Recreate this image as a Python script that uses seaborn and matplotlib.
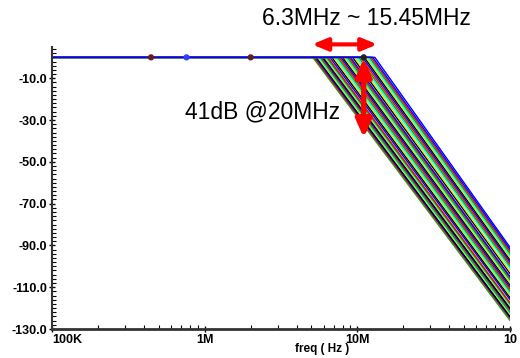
import numpy as np
import pandas as pd
import matplotlib
matplotlib.use("Agg")
import matplotlib.pyplot as plt
import seaborn as sns
from matplotlib.ticker import MultipleLocator, FixedLocator, LogLocator, NullFormatter

sns.set_style("white")
plt.rcParams['font.family'] = ['Liberation Sans', 'DejaVu Sans']
plt.rcParams['text.color'] = 'black'
plt.rcParams['xtick.color'] = 'black'
plt.rcParams['ytick.color'] = 'black'
plt.rcParams['axes.labelcolor'] = 'black'

# knee frequency (MHz) of each swept response and its level at 100MHz (dB)
knee_mhz = [5.1, 5.2, 5.3, 5.4, 5.5, 5.6, 5.7, 5.8, 5.9, 6.0, 6.1, 6.2, 6.3, 6.4,
            6.6, 6.8, 7.0, 7.2, 7.4, 7.6, 7.8, 8.0, 8.2, 8.4, 8.6, 8.8, 9.0, 9.3,
            9.6, 9.9, 10.2, 10.5, 10.8, 11.1, 11.4, 11.7, 12.0, 12.3, 12.6, 13.0]
end_db = [-126, -125, -124.5, -124, -123, -122.5, -122, -121, -120.5, -120, -119,
          -118.5, -118, -117.5, -116, -115, -114, -113, -112, -111, -110, -109,
          -108, -107, -106.5, -105.5, -105, -103.5, -102.5, -101, -100, -99, -98,
          -97, -96, -95, -94, -93, -92, -91]
start_hz = 1e5
stop_hz = 1e8
flat_db = 0.0

line_colors = ['#00b000', 'red', 'blue', 'black', '#e0e000', 'cyan']

# marker dots on passband
dot_freq = [4.45e5, 7.6e5, 2.0e6, 1.1e7]
dot_db = [0, 0, 0, 0]
dot_col = ['#602020', '#3040ff', '#602020', '#202020']

rows = []
for i, (k, e) in enumerate(zip(knee_mhz, end_db)):
    for f, v in [(start_hz, flat_db), (k * 1e6, flat_db), (stop_hz, e)]:
        rows.append({'curve': i, 'freq': f, 'db': v})
df = pd.DataFrame(rows)

palette = {i: line_colors[i % len(line_colors)] for i in range(len(knee_mhz))}
palette[len(knee_mhz) - 1] = 'blue'

fig = plt.figure(figsize=(5.2, 3.58), dpi=100)
ax = fig.add_axes([0.1, 0.081, 0.881, 0.788])

sns.lineplot(data=df, x='freq', y='db', hue='curve', palette=palette, units='curve',
             estimator=None, sort=False, legend=False, linewidth=1.0, ax=ax)
ax.scatter(dot_freq, dot_db, s=12, c=dot_col, zorder=5)

ax.set_xscale('log')
ax.set_xlim(start_hz, stop_hz)
ax.set_ylim(-130, 5)

ax.xaxis.set_major_locator(FixedLocator([1e5, 1e6, 1e7, 1e8]))
ax.set_xticklabels(['100K', '1M', '10M', '10'], fontweight='bold', fontsize=9)
ax.xaxis.set_minor_locator(LogLocator(base=10, subs=np.arange(2, 10)))
ax.xaxis.set_minor_formatter(NullFormatter())
ax.get_xticklabels()[0].set_ha('left')

yt = [-130, -110, -90, -70, -50, -30, -10]
ax.set_yticks(yt)
ax.set_yticklabels([f'{v:.1f}' for v in yt], fontweight='bold', fontsize=9)
ax.yaxis.set_minor_locator(MultipleLocator(2))

ax.tick_params(axis='both', which='major', direction='inout', length=5, width=1,
               pad=1, bottom=True, left=True, colors='black')
ax.tick_params(axis='both', which='minor', direction='in', length=3, width=0.8,
               bottom=True, left=True)
for s in ['top', 'right']:
    ax.spines[s].set_visible(False)
ax.spines['left'].set_color('#333333')
ax.spines['bottom'].set_color('#333333')
ax.spines['bottom'].set_linewidth(2)
ax.spines['left'].set_linewidth(1.5)

ax.set_ylabel('')
ax.set_xlabel('freq ( Hz )', fontweight='bold', fontsize=8.5, labelpad=0)
ax.xaxis.set_label_coords(0.59, -0.05)

# annotations
ax.annotate('', xy=(5.05e6, 6.2), xytext=(13.5e6, 6.2), annotation_clip=False,
            arrowprops=dict(arrowstyle='<|-|>,head_length=0.65,head_width=0.27',
                            color='red', lw=3, mutation_scale=14,
                            shrinkA=0, shrinkB=0))
ax.annotate('', xy=(11.0e6, -0.5), xytext=(11.0e6, -38.5), annotation_clip=False,
            arrowprops=dict(arrowstyle='<|-|>,head_length=0.75,head_width=0.33',
                            color='red', lw=3.8, mutation_scale=14,
                            shrinkA=0, shrinkB=0))
fig.text(0.503, 0.947, '6.3MHz ~ 15.45MHz', fontsize=16.5, ha='left', va='center',
         color='black')
fig.text(0.355, 0.687, '41dB @20MHz', fontsize=16.5, ha='left', va='center',
         color='black')

fig.savefig('out.png', dpi=100)
